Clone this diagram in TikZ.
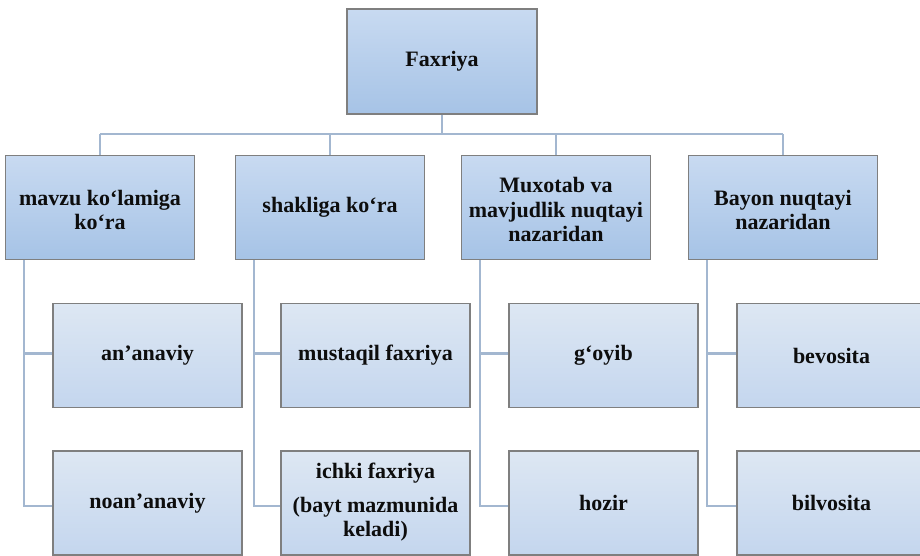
\documentclass[tikz,border=0pt]{standalone}
\usepackage{fontspec}
\setmainfont{Liberation Serif}
\definecolor{topA}{HTML}{C8DAF1}
\definecolor{botA}{HTML}{A6C3E6}
\definecolor{topB}{HTML}{DDE7F3}
\definecolor{botB}{HTML}{C4D6EE}
\definecolor{edge}{HTML}{7F7F7F}
\definecolor{conn}{HTML}{A3B7D0}
\begin{document}
\begin{tikzpicture}[x=1pt,y=-1pt,
  box/.style={draw=edge,line width=1.3pt,top color=topA,bottom color=botA,
    minimum width=189pt,minimum height=104pt,align=center,inner sep=2pt,
    font=\fontsize{22}{24.5}\selectfont\bfseries,text=black!95},
  sub/.style={box,top color=topB,bottom color=botB},
  link/.style={draw=conn,line width=2.4pt}]
\useasboundingbox (0,0) rectangle (920,555);
\clip (0,0) rectangle (920,555);
\node[box,minimum width=190pt,minimum height=105pt] (root) at (442,61.5) {Faxriya};
\coordinate (bar) at (442,134);
\node[box] (a) at (100,207.5) {\rule{0pt}{20pt}mavzu ko‘lamiga\\ko‘ra};
\node[box] (b) at (330,207.5) {shakliga ko‘ra};
\node[box] (c) at (556,207.5) {\rule{0pt}{20pt}Muxotab va\\mavjudlik nuqtayi\\nazaridan};
\node[box] (d) at (783,207.5) {\rule{0pt}{20pt}Bayon nuqtayi\\nazaridan};
\node[sub] (a1) at (147.5,355.5) {an’anaviy};
\node[sub] (a2) at (147.5,503) {noan’anaviy};
\node[sub] (b1) at (375.5,355.5) {mustaqil faxriya};
\node[sub] (b2) at (375.5,503) {ichki faxriya\\[9pt](bayt mazmunida\\keladi)\rule[-6pt]{0pt}{6pt}};
\node[sub] (c1) at (603.5,355.5) {g‘oyib};
\node[sub] (c2) at (603.5,503) {hozir};
\node[sub] (d1) at (831.5,355.5) {bevosita};
\node[sub] (d2) at (831.5,503) {bilvosita};
\path[link] (root.south) -- (bar);
\foreach \n in {a,b,c,d}{
  \path[link] (bar -| \n.north) -- (\n.north);
}
\path[link] (bar -| a.north) -- (bar -| d.north);
\foreach \p/\q/\r in {a/a1/a2,b/b1/b2,c/c1/c2,d/d1/d2}{
  \coordinate (\p v) at ([xshift=19pt]\p.south west);
  \coordinate (\q e) at ([yshift=2pt]\q.west);
  \coordinate (\r e) at ([yshift=-3pt]\r.west);
  \path[link] (\p v) |- (\r e);
  \path[link] (\q e -| \p v) -- (\q e);
}
\end{tikzpicture}
\end{document}
